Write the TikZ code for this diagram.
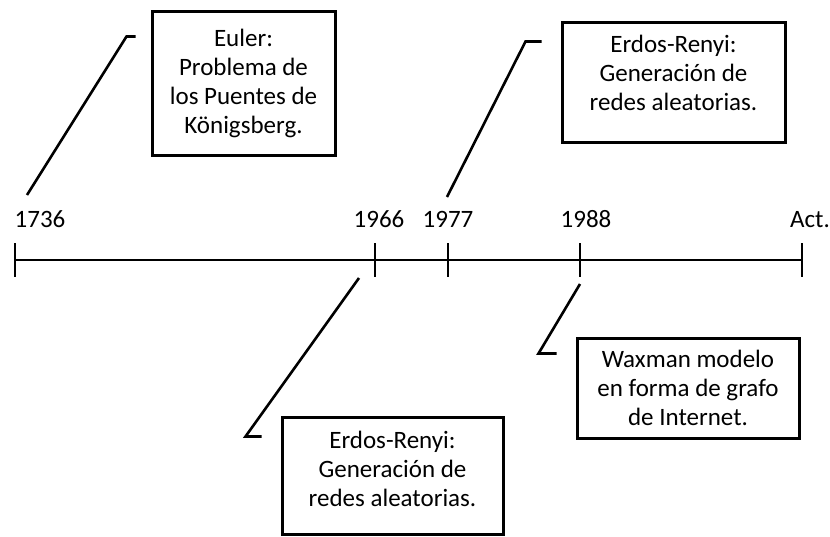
\documentclass[tikz,border=0pt]{standalone}
\usepackage{fontspec}
\setmainfont{Carlito}
\usepackage{tikz}
\usetikzlibrary{calc,positioning}
\tikzset{
  eventbox/.style={draw,line width=3pt,align=center,inner sep=3pt,
    font=\fontsize{25}{29}\selectfont},
  leader/.style={line width=2.6pt},
  year/.style={anchor=base,inner sep=0pt,font=\fontsize{25}{29}\selectfont},
  axisline/.style={line width=1.6pt}
}

\begin{document}
\begin{tikzpicture}[x=1pt,y=-1pt]
  \useasboundingbox (0,0) rectangle (830,536);
  % time axis
  \coordinate (t0) at (15,260);
  \coordinate (t1) at (802,260);
  \draw[axisline] (t0)--(t1);
  \foreach \x/\lx/\lab [count=\i] in {15/40/1736,375/379/1966,448/448/1977,580/586/1988,802/810/Act.}
    {\draw[axisline] (\x,243)--(\x,277);
     \node[year] (year\i) at (\lx,227) {\lab};}
  % events
  \node[eventbox,minimum width=183pt,minimum height=144pt] (euler) at (243.5,83)
    {Euler:\\Problema de\\los Puentes de\\Königsberg.};
  \node[eventbox,minimum width=223pt,minimum height=120pt,text depth=18pt] (erdosA) at (673.5,82)
    {Erdos-Renyi:\\Generación de\\redes aleatorias.};
  \node[eventbox,minimum width=221pt,minimum height=117pt,text depth=13pt] (erdosB) at (392.5,475.5)
    {Erdos-Renyi:\\Generación de\\redes aleatorias.};
  \node[eventbox,minimum width=222pt,minimum height=100pt] (waxman) at (688,388)
    {Waxman modelo\\en forma de grafo\\de Internet.};
  % leaders
  \coordinate (s1) at (27,195);
  \coordinate (s2) at (447,197);
  \coordinate (s3) at (359,278);
  \coordinate (s4) at (580,284);
  \coordinate (h1) at ($(euler.north west)+(-15,27)$);
  \coordinate (h2) at ($(erdosA.north west)+(-19,21)$);
  \coordinate (h3) at ($(erdosB.north west)+(-19,21)$);
  \coordinate (h4) at ($(waxman.north west)+(-19,17)$);
  \draw[leader] (s1)--($(h1)+(-9,0)$)--(h1);
  \draw[leader] (s2)--($(h2)+(-16,0)$)--(h2);
  \draw[leader] (s3)--($(h3)+(-16,0)$)--(h3);
  \draw[leader] (s4)--($(h4)+(-18,0)$)--(h4);
\end{tikzpicture}
\end{document}
